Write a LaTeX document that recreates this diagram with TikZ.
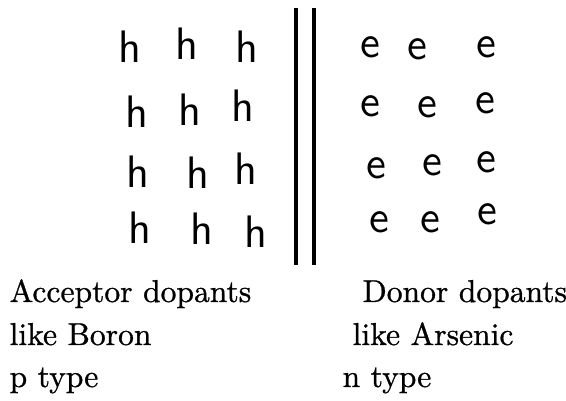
\documentclass[tikz,border=0pt]{standalone}
\usepackage{amsmath}
\usepackage{amssymb}
\usepackage{fontspec}
\usepackage{tikz}

\newfontfamily\scanfont{Latin Modern Roman}[FakeBold=0.9]

\begin{document}
\begin{tikzpicture}[x = 0.3165pt, y = 0.3165pt,
  carrier/.style = {inner sep = 0pt, font = \sffamily\Large},
  caption/.style = {inner sep = 0pt, anchor = base west, font = \scanfont}]
\useasboundingbox (0, 0) rectangle (566, 401);

\node[carrier] at (130, 354) (A) {h};
\node[carrier] at (187, 357) (B) {h};
\node[carrier] at (247, 354) (C) {h};
\node[carrier] at (137, 289) (D) {h};
\node[carrier] at (190, 291) (E) {h};
\node[carrier] at (243, 295) (F) {h};
\node[carrier] at (138, 229) (G) {h};
\node[carrier] at (198, 228) (H) {h};
\node[carrier] at (246, 232) (I) {h};
\node[carrier] at (140, 173) (J) {h};
\node[carrier] at (202, 172) (K) {h};
\node[carrier] at (256, 169) (L) {h};

\node[carrier] at (370, 354) (a) {e};
\node[carrier] at (417, 352) (b) {e};
\node[carrier] at (486, 354) (c) {e};
\node[carrier] at (370, 295) (d) {e};
\node[carrier] at (427, 294) (e) {e};
\node[carrier] at (485, 298) (f) {e};
\node[carrier] at (376, 233) (g) {e};
\node[carrier] at (432, 236) (h) {e};
\node[carrier] at (486, 239) (i) {e};
\node[carrier] at (379, 179) (j) {e};
\node[carrier] at (430, 179) (k) {e};
\node[carrier] at (487, 187) (l) {e};

% double bar between the two sides
\coordinate (u1) at (296, 393);
\coordinate (v1) at (296, 136);
\coordinate (u2) at (314, 393);
\coordinate (v2) at (314, 136);
\draw[line width = 1pt] (u1) -- (v1);
\draw[line width = 1pt] (u2) -- (v2);

\node[caption] at (9, 99)   (p1) {Acceptor dopants};
\node[caption] at (9, 56)   (p2) {like Boron};
\node[caption] at (9, 14)   (p3) {p type};
\node[caption] at (362, 99) (n1) {Donor dopants};
\node[caption] at (352, 56) (n2) {like Arsenic};
\node[caption] at (342, 14) (n3) {n type};

\end{tikzpicture}
\end{document}
